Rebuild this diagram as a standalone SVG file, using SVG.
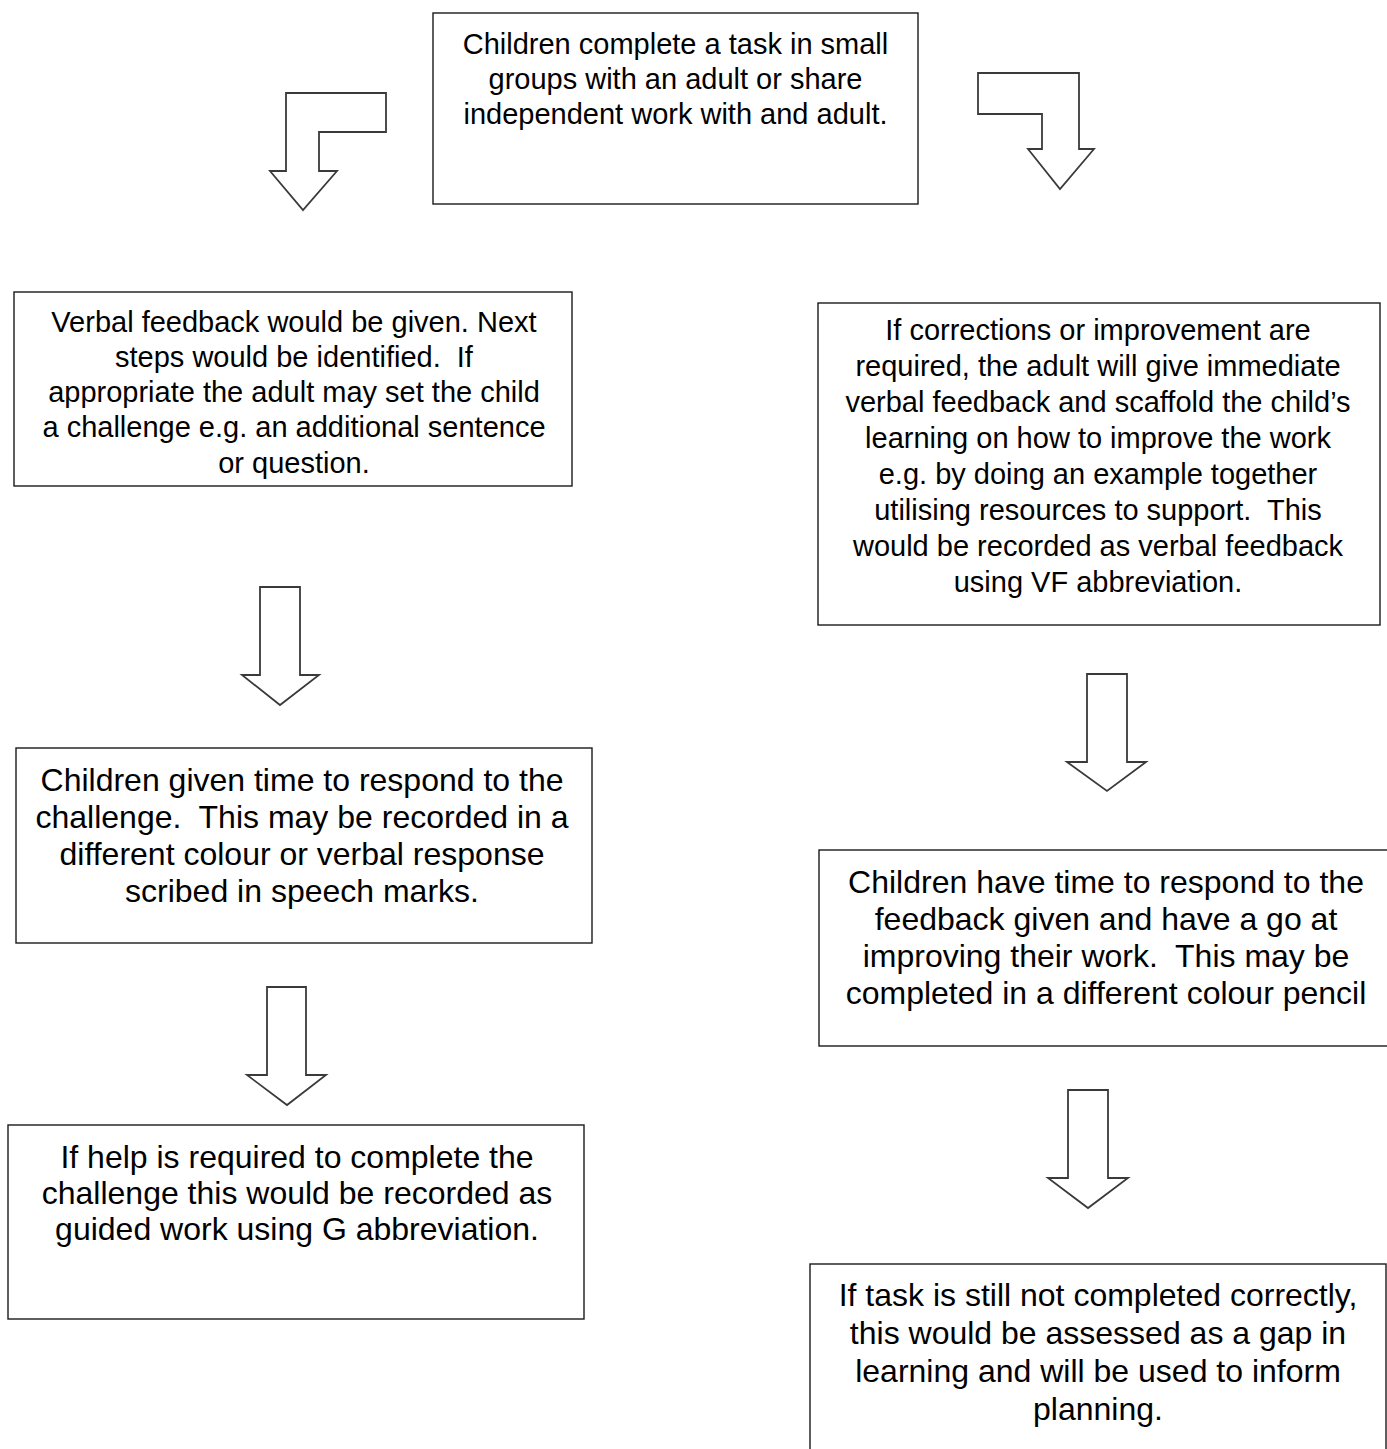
<svg xmlns="http://www.w3.org/2000/svg" width="1387" height="1449" viewBox="0 0 1387 1449">
<style>
.box{fill:#fff;stroke:#1a1a1a;stroke-width:1.4}
.arr{fill:#fff;stroke:#3a3a3a;stroke-width:1.8;stroke-linejoin:miter}
text{white-space:pre}
.t29{font-family:"Liberation Sans",Arial,sans-serif;font-size:29px;fill:#000;text-anchor:middle}
.t32{font-family:"Liberation Sans",Arial,sans-serif;font-size:32px;fill:#000;text-anchor:middle}
</style>
<rect width="1387" height="1449" fill="#fff"/>
<g id="connectors">
<path class="arr" d="M286,93 H386 V132 H319 V171 H337 L303,210 L270,171 H286 Z"/>
<path class="arr" d="M978,73 H1079 V149 H1094 L1060,189 L1028,149 H1042 V114 H978 Z"/>
<path class="arr" d="M260,587 H300 V675 H319 L280,705 L242,675 H260 Z"/>
<path class="arr" d="M267,987 H306 V1075 H326 L287,1105 L247,1075 H267 Z"/>
<path class="arr" d="M1087,674 H1127 V762 H1146 L1107,791 L1067,762 H1087 Z"/>
<path class="arr" d="M1068,1090 H1108 V1178 H1128 L1088,1208 L1048,1178 H1068 Z"/>
</g>
<g id="n1">
<rect class="box" x="433" y="13" width="485" height="191"/>
<text class="t29" x="675.5" y="54">Children complete a task in small</text>
<text class="t29" x="675.5" y="89">groups with an adult or share</text>
<text class="t29" x="675.5" y="124">independent work with and adult.</text>
</g>
<g id="n2">
<rect class="box" x="14" y="292" width="558" height="194"/>
<text class="t29" x="294" y="332">Verbal feedback would be given. Next</text>
<text class="t29" x="294" y="367">steps would be identified.  If</text>
<text class="t29" x="294" y="402">appropriate the adult may set the child</text>
<text class="t29" x="294" y="437">a challenge e.g. an additional sentence</text>
<text class="t29" x="294" y="473">or question.</text>
</g>
<g id="n3">
<rect class="box" x="818" y="303" width="562" height="322"/>
<text class="t29" x="1098" y="340">If corrections or improvement are</text>
<text class="t29" x="1098" y="376">required, the adult will give immediate</text>
<text class="t29" x="1098" y="412">verbal feedback and scaffold the child’s</text>
<text class="t29" x="1098" y="448">learning on how to improve the work</text>
<text class="t29" x="1098" y="484">e.g. by doing an example together</text>
<text class="t29" x="1098" y="520">utilising resources to support.  This</text>
<text class="t29" x="1098" y="556">would be recorded as verbal feedback</text>
<text class="t29" x="1098" y="592">using VF abbreviation.</text>
</g>
<g id="n4">
<rect class="box" x="16" y="748" width="576" height="195"/>
<text class="t32" x="302" y="791">Children given time to respond to the</text>
<text class="t32" x="302" y="828">challenge.  This may be recorded in a</text>
<text class="t32" x="302" y="865">different colour or verbal response</text>
<text class="t32" x="302" y="902">scribed in speech marks.</text>
</g>
<g id="n5">
<rect class="box" x="819" y="850" width="580" height="196"/>
<text class="t32" x="1106" y="893">Children have time to respond to the</text>
<text class="t32" x="1106" y="930">feedback given and have a go at</text>
<text class="t32" x="1106" y="967">improving their work.  This may be</text>
<text class="t32" x="1106" y="1004">completed in a different colour pencil</text>
</g>
<g id="n6">
<rect class="box" x="8" y="1125" width="576" height="194"/>
<text class="t32" x="297" y="1168">If help is required to complete the</text>
<text class="t32" x="297" y="1204">challenge this would be recorded as</text>
<text class="t32" x="297" y="1240">guided work using G abbreviation.</text>
</g>
<g id="n7">
<rect class="box" x="810" y="1264" width="576" height="200"/>
<text class="t32" x="1098" y="1306">If task is still not completed correctly,</text>
<text class="t32" x="1098" y="1344">this would be assessed as a gap in</text>
<text class="t32" x="1098" y="1382">learning and will be used to inform</text>
<text class="t32" x="1098" y="1420">planning.</text>
</g>
</svg>
